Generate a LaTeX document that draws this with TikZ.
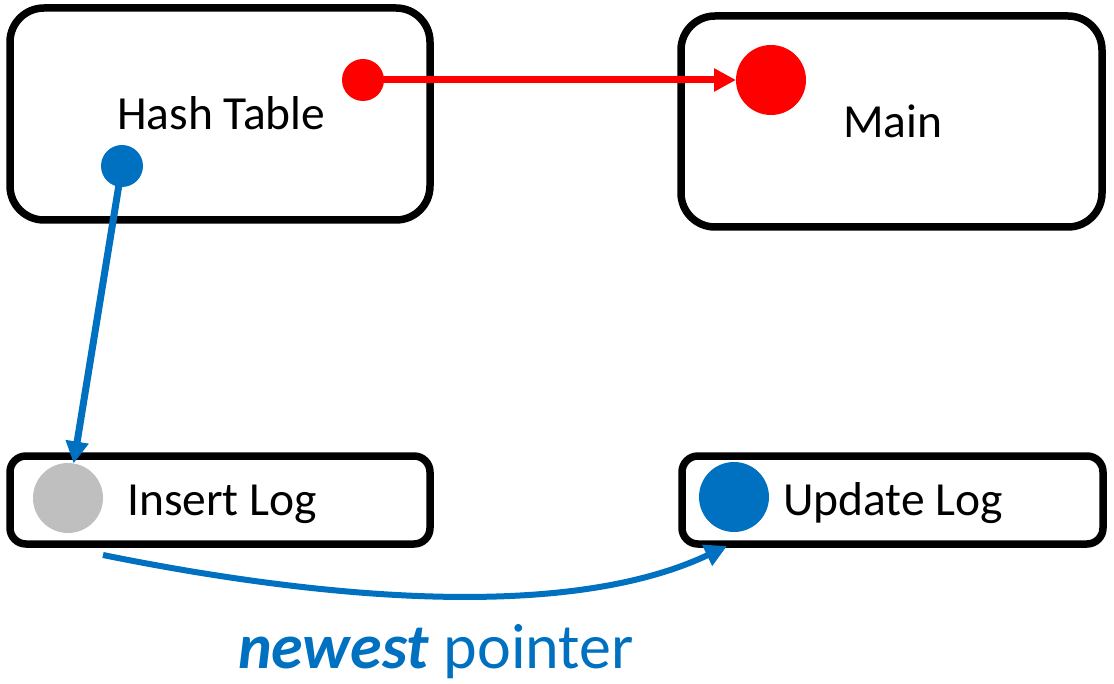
\documentclass[tikz,border=0pt]{standalone}
\usepackage{fontspec}
\setmainfont{Carlito}
\usetikzlibrary{arrows.meta}
\definecolor{ptrblue}{HTML}{0070C0}
\definecolor{ptrred}{HTML}{FF0000}
\definecolor{emptygray}{HTML}{BFBFBF}
\begin{document}
\begin{tikzpicture}[x=1pt,y=-1pt,
  bigbox/.style={draw=black,line width=7.5pt,rounded corners=34pt,minimum width=420pt,minimum height=212pt,inner sep=0pt},
  logbox/.style={draw=black,line width=7.5pt,rounded corners=16pt,minimum width=420pt,minimum height=88pt,inner sep=0pt},
  label/.style={font=\fontsize{47.5}{52}\selectfont,anchor=base west,inner sep=0pt},
  smalldot/.style={circle,minimum size=42pt,inner sep=0pt,outer sep=0pt},
  bigdot/.style={circle,minimum size=70pt,inner sep=0pt,outer sep=0pt},
  link/.style={line width=7pt,-{Triangle[length=22pt,width=22pt]}}
]
\useasboundingbox (0,0) rectangle (1114,684);

% boxes
\node[bigbox] (hash) at (220,114) {};
\node[bigbox,minimum width=421pt,minimum height=211pt] (main) at (891.5,121.5) {};
\node[logbox] (ins) at (220,500) {};
\node[logbox,minimum width=421pt] (upd) at (892.5,500) {};

% labels
\node[label] (hashlbl) at (117,130) {Hash Table};
\node[label] (mainlbl) at (843,138) {Main};
\node[label] (inslbl) at (127,515) {Insert Log};
\node[label] (updlbl) at (783,515) {Update Log};

% slots
\node[bigdot,fill=ptrred] (mainslot) at (771,80) {};
\node[bigdot,fill=emptygray] (insslot) at (68,498) {};
\node[bigdot,fill=ptrblue] (updslot) at (734,497) {};

% pointers
\draw[link,draw=ptrred] (363,80) coordinate (rstart) -- (mainslot);
\node[smalldot,fill=ptrred] (rdot) at (rstart) {};
\draw[link,draw=ptrblue] (122,166) coordinate (bstart) -- (insslot);
\node[smalldot,fill=ptrblue] (bdot) at (bstart) {};

% newest pointer
\coordinate (nstart) at (103,555);
\coordinate (nend) at (727,546);
\draw[link,draw=ptrblue,line width=6pt] (nstart) .. controls (300,595) and (560,625) .. (nend);
\node[anchor=base west,inner sep=0pt,text=ptrblue,font=\fontsize{64}{68}\selectfont] (newest) at (238,668) {\textbf{\textit{newest}} pointer};
\end{tikzpicture}
\end{document}
